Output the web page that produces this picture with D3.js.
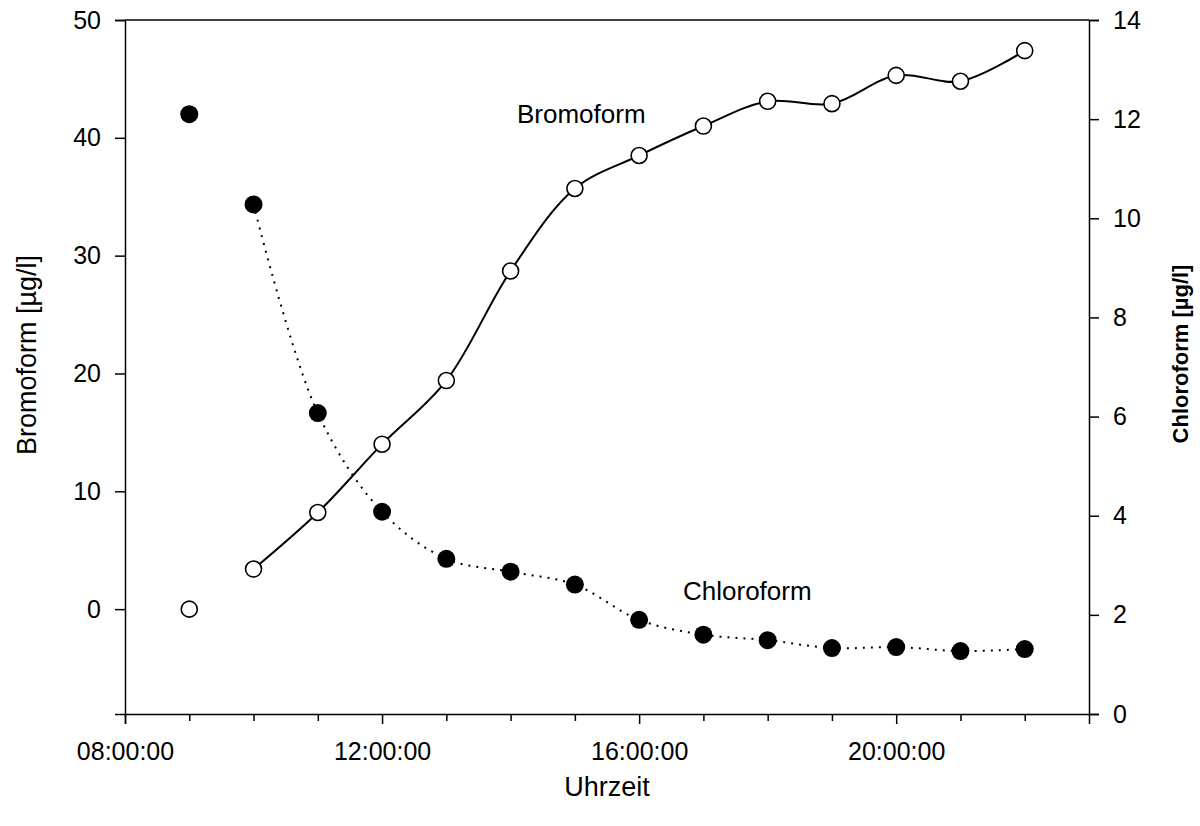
<!DOCTYPE html>
<html>
<head>
<meta charset="utf-8">
<script src="https://cdn.jsdelivr.net/npm/d3@7/dist/d3.min.js"></script>
<style>
  body { margin: 0; background: #fff; }
  svg text { font-family: "Liberation Sans", Arial, sans-serif; fill: #000; }
</style>
</head>
<body>
<svg id="chart" width="1200" height="826"></svg>
<script>
// Hours of measurement (time of day)
const hours = [9, 10, 11, 12, 13, 14, 15, 16, 17, 18, 19, 20, 21, 22];
// Bromoform [µg/l] (left axis)
const bromoform = [0.0, 3.4, 8.2, 14.0, 19.4, 28.7, 35.7, 38.5, 41.0, 43.1, 42.9, 45.3, 44.8, 47.4];
// Chloroform [µg/l] (right axis)
const chloroform = [12.1, 10.28, 6.07, 4.08, 3.13, 2.87, 2.61, 1.90, 1.60, 1.49, 1.33, 1.35, 1.27, 1.31];
const leftTicks = [0, 10, 20, 30, 40, 50];
const rightTicks = [0, 2, 4, 6, 8, 10, 12, 14];
const xMajorTicks = [8, 12, 16, 20];
const xMinorTicks = [9, 10, 11, 13, 14, 15, 17, 18, 19, 21, 22];

const svg = d3.select("#chart");
const L = 125, R = 1089, T = 20, B = 714;

const x = d3.scaleLinear().domain([8, 23]).range([L, R]);
const yL = d3.scaleLinear().domain([-8.9, 50]).range([B, T]);
const yR = d3.scaleLinear().domain([0, 14]).range([B, T]);

const fmt = h => String(h).padStart(2, "0") + ":00:00";
const fontSize = 25;

// Frame top line
svg.append("line").attr("x1", L).attr("x2", R).attr("y1", T).attr("y2", T)
  .attr("stroke", "#000").attr("stroke-width", 1.5);

// Bottom axis
const gx = svg.append("g").attr("transform", `translate(0,${B})`)
  .call(d3.axisBottom(x).tickValues(xMajorTicks).tickFormat(fmt).tickSizeOuter(0).tickSize(10).tickPadding(18));
gx.selectAll("text").style("font-size", fontSize + "px");
const gxm = svg.append("g").attr("transform", `translate(0,${B})`)
  .call(d3.axisBottom(x).tickValues(xMinorTicks).tickFormat("").tickSizeOuter(0).tickSize(7));
gxm.select(".domain").remove();

// Left axis
const gl = svg.append("g").attr("transform", `translate(${L},0)`)
  .call(d3.axisLeft(yL).tickValues(leftTicks).tickSizeOuter(0).tickSize(10).tickPadding(14));
gl.selectAll("text").style("font-size", fontSize + "px");

// Right axis
const gr = svg.append("g").attr("transform", `translate(${R},0)`)
  .call(d3.axisRight(yR).tickValues(rightTicks).tickSizeOuter(0).tickSize(10).tickPadding(14));
gr.selectAll("text").style("font-size", fontSize + "px");

svg.selectAll(".domain, .tick line").attr("stroke", "#000").attr("stroke-width", 1.5);

// Lines (from 10:00 on)
const bromoPts = hours.map((h, i) => [h, bromoform[i]]).slice(1);
const chloroPts = hours.map((h, i) => [h, chloroform[i]]).slice(1);

svg.append("path")
  .datum(bromoPts)
  .attr("fill", "none").attr("stroke", "#000").attr("stroke-width", 2)
  .attr("d", d3.line().x(d => x(d[0])).y(d => yL(d[1])).curve(d3.curveCatmullRom.alpha(0.5)));

svg.append("path")
  .datum(chloroPts)
  .attr("fill", "none").attr("stroke", "#000").attr("stroke-width", 2)
  .attr("stroke-dasharray", "2 6")
  .attr("d", d3.line().x(d => x(d[0])).y(d => yR(d[1])).curve(d3.curveCatmullRom.alpha(0.5)));

// Points
svg.append("g").selectAll("circle").data(hours).join("circle")
  .attr("cx", (d) => x(d)).attr("cy", (d, i) => yR(chloroform[i]))
  .attr("r", 9).attr("fill", "#000");

svg.append("g").selectAll("circle").data(hours).join("circle")
  .attr("cx", (d) => x(d)).attr("cy", (d, i) => yL(bromoform[i]))
  .attr("r", 8).attr("fill", "#fff").attr("stroke", "#000").attr("stroke-width", 1.6);

// In-plot labels
svg.append("text").attr("x", 517).attr("y", 123).style("font-size", "26px").text("Bromoform");
svg.append("text").attr("x", 683).attr("y", 600).style("font-size", "26px").text("Chloroform");

// Axis titles
svg.append("text").attr("transform", `translate(36,355) rotate(-90)`)
  .attr("text-anchor", "middle").style("font-size", "27px").text("Bromoform [µg/l]");
svg.append("text").attr("transform", `translate(1188,354) rotate(-90)`)
  .attr("text-anchor", "middle").style("font-size", "22px").style("font-weight", "bold").text("Chloroform [µg/l]");
svg.append("text").attr("x", (L + R) / 2).attr("y", 796)
  .attr("text-anchor", "middle").style("font-size", "27px").text("Uhrzeit");
</script>
</body>
</html>
